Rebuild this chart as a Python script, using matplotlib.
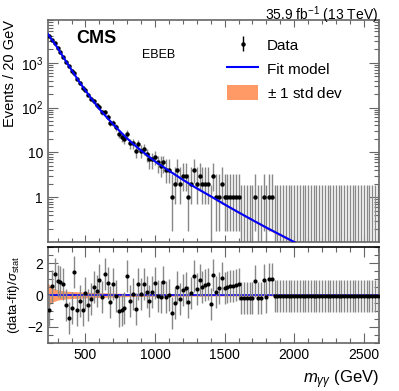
import numpy as np
import matplotlib
matplotlib.use("Agg")
import matplotlib.pyplot as plt
from matplotlib.ticker import MultipleLocator, FixedLocator, LogLocator, NullFormatter, FixedFormatter
from matplotlib.lines import Line2D
from matplotlib.patches import Patch

plt.rcParams['font.family'] = ['Liberation Sans', 'DejaVu Sans']
plt.rcParams['mathtext.fontset'] = 'custom'
plt.rcParams['mathtext.rm'] = 'Liberation Sans'
plt.rcParams['mathtext.it'] = 'Liberation Sans:italic'

# Data: 20 GeV bins, centres 240 ... 2600 GeV
bin_centers = np.arange(240, 2601, 20)

counts = [3921, 3272, 2696, 2180, 1734, 1375, 1050, 828, 668, 584,
          427, 348, 279, 242, 191, 159, 141, 115, 102, 78,
          79, 63, 46, 46, 36, 26, 22, 20, 26, 16,
          16, 11, 15, 11, 12, 9, 7, 7, 8, 6,
          5, 6, 4, 4, 1, 2, 4, 2, 3, 3,
          1, 2, 4, 2, 3, 2, 2, 2, 0, 3,
          1, 1, 2, 1, 1, 1, 1, 1, 1, 0,
          0, 0, 0, 0, 1, 0, 0, 1, 0, 1,
          1] + [0] * 38

pulls = [-0.94, 0.56, 1.29, 0.87, 0.84, 0.67, -0.62, -1.42, -0.83, 1.46,
         -0.94, -0.38, -0.94, 0.10, -0.63, -0.23, 0.50, 0.27, 0.94, -0.15,
         1.29, 0.77, -0.42, 0.69, -0.06, -0.98, -0.94, -0.81, 1.20, -0.38,
         0.04, -0.88, 0.69, 0.04, 0.69, 0.21, -0.38, 0.17, 0.73, -0.04,
         -0.10, 0.79, -0.15, 0.00, -1.15, -0.52, 0.52, -0.25, 0.31, 0.46,
         -0.46, 0.10, 1.19, 0.35, 0.96, 0.52, 0.62, 0.67, -0.58, 1.25,
         0.20, 0.42, 1.04, 0.42, 0.48, 0.54, 0.58, 0.62, 0.67, -0.21,
         -0.21, -0.21, -0.21, -0.21, 0.90, -0.21, -0.20, 0.94, -0.15, 0.98,
         1.00] + [-0.08] * 38

# Fit model read at a few masses
fit_mass = [230, 250, 300, 350, 400, 450, 500, 550, 600, 650, 700, 750, 800,
            850, 900, 950, 1000, 1100, 1200, 1300, 1400, 1500, 1600, 1700,
            1800, 1900, 2000, 2020]
fit_vals = [4365, 3548, 2138, 1202, 692, 398, 240, 148, 93, 62, 42, 29, 20.4,
            14.8, 11.0, 8.3, 6.3, 3.9, 2.45, 1.58, 1.05, 0.69, 0.46, 0.31,
            0.21, 0.145, 0.10, 0.093]
fit_relunc = [0.02, 0.02, 0.02, 0.02, 0.02, 0.02, 0.02, 0.02, 0.02, 0.025, 0.025,
              0.03, 0.03, 0.03, 0.035, 0.035, 0.04, 0.04, 0.045, 0.05, 0.05,
              0.055, 0.06, 0.06, 0.065, 0.07, 0.07, 0.07]

# band of fit uncertainty in the pull panel
band_mass = [230, 250, 270, 300, 350, 400, 500, 600, 800, 1000, 1500, 2000, 2610]
band_half = [0.75, 0.55, 0.42, 0.32, 0.25, 0.22, 0.18, 0.15, 0.10, 0.08, 0.06, 0.05, 0.05]

# Garwood intervals for small counts
gw_low = [0.0, 0.173, 0.708, 1.367, 2.086, 2.840]
gw_high = [1.841, 3.300, 4.638, 5.918, 7.163, 8.382]

counts = np.array(counts, dtype=float)
pulls = np.array(pulls)
fit_mass = np.array(fit_mass)
fit_vals = np.array(fit_vals)
fit_relunc = np.array(fit_relunc)

err_lo, err_hi = [], []
for n in counts:
    k = int(n)
    if k < len(gw_low):
        err_lo.append(n - gw_low[k]); err_hi.append(gw_high[k] - n)
    else:
        err_lo.append(np.sqrt(n)); err_hi.append(np.sqrt(n))
err_lo = np.array(err_lo); err_hi = np.array(err_hi)

band_col = '#FF9966'
frame_col = '#666666'

fig = plt.figure(figsize=(3.99, 3.91), dpi=100)
ax = fig.add_axes([0.120, 0.381, 0.830, 0.568])
axr = fig.add_axes([0.120, 0.123, 0.830, 0.245])

# main panel
ax.fill_between(fit_mass, fit_vals * (1 - fit_relunc), fit_vals * (1 + fit_relunc),
                color=band_col, lw=0, zorder=1)
nz = counts > 0
z = ~nz
ax.vlines(bin_centers[z], 0.01, gw_high[0], color='#888888', lw=1.0, zorder=2)
ax.errorbar(bin_centers[nz], counts[nz], yerr=[err_lo[nz], err_hi[nz]], fmt='o',
            color='black', ecolor='#888888', elinewidth=1.0, ms=2.2, capsize=0,
            zorder=3)
ax.plot(fit_mass, fit_vals, color='#0000ff', lw=1.5, zorder=4)

ax.set_yscale('log')
ax.set_xlim(230, 2610)
ax.set_ylim(0.1, 9000)
ax.yaxis.set_major_locator(FixedLocator([1, 10, 100, 1000]))
ax.yaxis.set_major_formatter(FixedFormatter(['1', '10', r'$10^2$', r'$10^3$']))
ax.yaxis.set_minor_locator(LogLocator(base=10, subs=np.arange(2, 10)))
ax.yaxis.set_minor_formatter(NullFormatter())
ax.set_xticklabels([])
ax.set_ylabel('Events / 20 GeV', fontsize=10.5, loc='top')
ax.yaxis.set_label_coords(-0.094, 1.0)

# legend with proxy handles
h_data = ax.errorbar([], [], yerr=[], fmt='o', color='black', ecolor='black',
                     ms=2.2, elinewidth=1.0)
h_fit = Line2D([], [], color='#0000ff', lw=1.5)
h_band = Patch(facecolor=band_col, edgecolor='none')
ax.legend([h_data, h_fit, h_band], ['Data', 'Fit model', r'$\pm$ 1 std dev'],
          loc='upper left', bbox_to_anchor=(0.51, 0.97), frameon=False,
          fontsize=11, handlelength=2.0, handleheight=1.1, labelspacing=0.55,
          borderpad=0.2, handletextpad=0.6)

ax.text(0.085, 0.917, 'CMS', transform=ax.transAxes, fontsize=13,
        fontweight='bold', va='center', ha='left')
ax.text(0.284, 0.842, 'EBEB', transform=ax.transAxes, fontsize=9,
        va='center', ha='left')
fig.text(0.948, 1 - 4 / 391, r'35.9 fb$^{-1}$ (13 TeV)', fontsize=10,
         ha='right', va='top')

# pull panel
axr.fill_between(band_mass, -np.array(band_half), band_half, color=band_col,
                 lw=0, zorder=1)
axr.axhline(0, color='#0000ff', lw=1.2, zorder=2)
axr.errorbar(bin_centers, pulls, yerr=1.0, fmt='o', color='black',
             ecolor='#888888', elinewidth=1.0, ms=2.0, capsize=0, zorder=3)
axr.set_xlim(230, 2610)
axr.set_ylim(-3, 3)
axr.yaxis.set_major_locator(FixedLocator([-2, 0, 2]))
axr.yaxis.set_minor_locator(MultipleLocator(0.5))
axr.xaxis.set_major_locator(MultipleLocator(500))
axr.xaxis.set_minor_locator(MultipleLocator(100))
axr.set_ylabel(r'(data-fit)/$\sigma_{\mathrm{stat}}$', fontsize=9.5)
axr.yaxis.set_label_coords(-0.078, 0.5)

fig.text(0.950, 0.028, r'$m_{\gamma\gamma}$ (GeV)', fontsize=12, ha='right',
         va='center')

for a in (ax, axr):
    a.tick_params(which='both', direction='in', top=True, right=True,
                  colors='black', labelsize=10, color=frame_col)
    a.tick_params(which='major', length=7, width=0.8)
    a.tick_params(which='minor', length=3.5, width=0.8)
    for s in a.spines.values():
        s.set_color(frame_col)
        s.set_linewidth(1.2)
axr.spines['top'].set_color('black')
ax.tick_params(axis='x', which='major', length=5)
ax.tick_params(axis='x', which='minor', length=3)
ax.xaxis.set_major_locator(MultipleLocator(500))
ax.xaxis.set_minor_locator(MultipleLocator(100))

fig.savefig('out.png', dpi=100)
